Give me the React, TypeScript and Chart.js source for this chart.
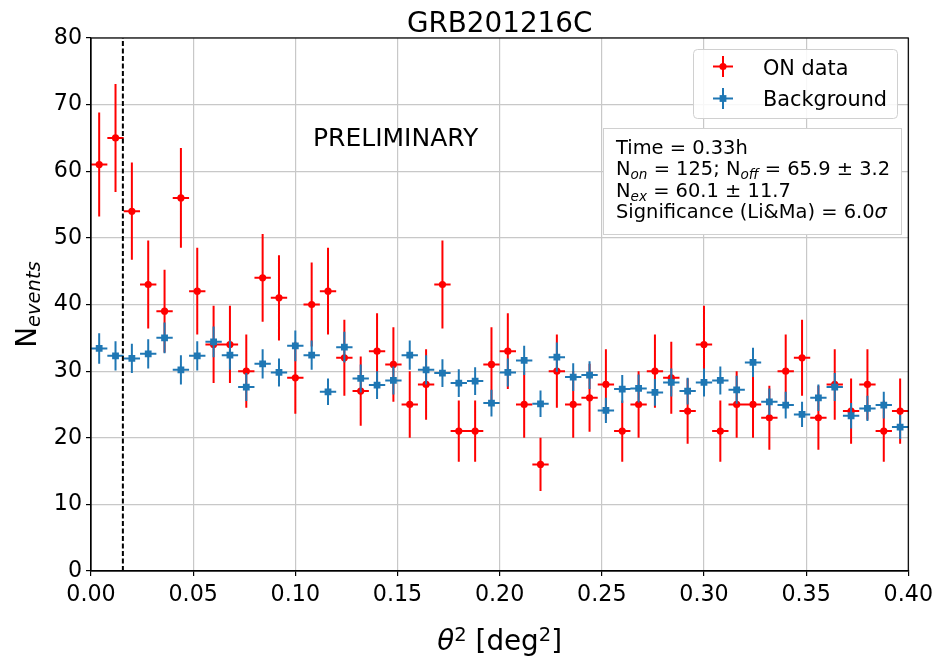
import React, { useEffect, useRef } from "react";
import { Chart, registerables } from "chart.js";

Chart.register(...registerables);

// ---------- data ----------
const binCenters = [
  0.004, 0.012, 0.020, 0.028, 0.036, 0.044, 0.052, 0.060, 0.068, 0.076,
  0.084, 0.092, 0.100, 0.108, 0.116, 0.124, 0.132, 0.140, 0.148, 0.156,
  0.164, 0.172, 0.180, 0.188, 0.196, 0.204, 0.212, 0.220, 0.228, 0.236,
  0.244, 0.252, 0.260, 0.268, 0.276, 0.284, 0.292, 0.300, 0.308, 0.316,
  0.324, 0.332, 0.340, 0.348, 0.356, 0.364, 0.372, 0.380, 0.388, 0.396,
];
const binHalfWidth = 0.004;

const onCounts = [
  61, 65, 54, 43, 39, 56, 42, 34, 34, 30,
  44, 41, 29, 40, 42, 32, 27, 33, 31, 25,
  28, 43, 21, 21, 31, 33, 25, 16, 30, 25,
  26, 28, 21, 25, 30, 29, 24, 34, 21, 25,
  25, 23, 30, 32, 23, 28, 24, 28, 21, 24,
];
const onErrors = [
  7.8, 8.1, 7.3, 6.6, 6.2, 7.5, 6.5, 5.8, 5.8, 5.5,
  6.6, 6.4, 5.4, 6.3, 6.5, 5.7, 5.2, 5.7, 5.6, 5.0,
  5.3, 6.6, 4.6, 4.6, 5.6, 5.7, 5.0, 4.0, 5.5, 5.0,
  5.1, 5.3, 4.6, 5.0, 5.5, 5.4, 4.9, 5.8, 4.6, 5.0,
  5.0, 4.8, 5.5, 5.7, 4.8, 5.3, 4.9, 5.3, 4.6, 4.9,
];
const bgCounts = [
  33.4, 32.3, 31.9, 32.6, 35.0, 30.2, 32.3, 34.4, 32.4, 27.6,
  31.1, 29.8, 33.8, 32.4, 26.9, 33.6, 28.9, 27.9, 28.6, 32.4,
  30.2, 29.7, 28.2, 28.5, 25.2, 29.8, 31.6, 25.1, 32.1, 29.1,
  29.4, 24.1, 27.3, 27.4, 26.8, 28.3, 27.0, 28.3, 28.6, 27.2,
  31.3, 25.4, 24.9, 23.5, 26.0, 27.6, 23.3, 24.4, 24.9, 21.6,
];
const bgErrors = [
  2.3, 2.2, 2.2, 2.2, 2.3, 2.2, 2.2, 2.3, 2.2, 2.1,
  2.2, 2.1, 2.3, 2.2, 2.0, 2.3, 2.1, 2.1, 2.1, 2.2,
  2.2, 2.1, 2.1, 2.1, 2.0, 2.1, 2.2, 2.0, 2.2, 2.1,
  2.1, 1.9, 2.1, 2.1, 2.0, 2.1, 2.0, 2.1, 2.1, 2.1,
  2.2, 2.0, 2.0, 1.9, 2.0, 2.1, 1.9, 1.9, 2.0, 1.8,
];
const thetaCut = 0.0156;

const chartTitle = "GRB201216C";
const seriesNames = ["ON data", "Background"];
const statsTime = "Time = 0.33h";
const statsNon = "125";
const statsNoff = "65.9 ± 3.2";
const statsNex = "60.1 ± 11.7";
const statsSig = "6.0";

// ---------- styling ----------
const FF = "'DejaVu Sans', 'Liberation Sans', sans-serif";
const font = (size: number, italic = false) => `${italic ? "italic " : ""}${size}px ${FF}`;
const RED = "#ff0000";
const BLUE = "#1f77b4";

type Run = { t: string; f: string; dy?: number };
function drawRuns(ctx: CanvasRenderingContext2D, x: number, y: number, runs: Run[], align: "left" | "center") {
  const widths = runs.map((r) => {
    ctx.font = r.f;
    return ctx.measureText(r.t).width;
  });
  const total = widths.reduce((a, b) => a + b, 0);
  let cx = align === "center" ? x - total / 2 : x;
  ctx.textAlign = "left";
  ctx.textBaseline = "alphabetic";
  runs.forEach((r, i) => {
    ctx.font = r.f;
    ctx.fillText(r.t, cx, y + (r.dy || 0));
    cx += widths[i];
  });
}

function roundRect(ctx: CanvasRenderingContext2D, x: number, y: number, w: number, h: number, r: number) {
  ctx.beginPath();
  ctx.moveTo(x + r, y);
  ctx.lineTo(x + w - r, y);
  ctx.arcTo(x + w, y, x + w, y + r, r);
  ctx.lineTo(x + w, y + h - r);
  ctx.arcTo(x + w, y + h, x + w - r, y + h, r);
  ctx.lineTo(x + r, y + h);
  ctx.arcTo(x, y + h, x, y + h - r, r);
  ctx.lineTo(x, y + r);
  ctx.arcTo(x, y, x + r, y, r);
  ctx.closePath();
}

function drawErrMarker(ctx: CanvasRenderingContext2D, cx: number, cy: number, color: string, style: string) {
  ctx.strokeStyle = color;
  ctx.fillStyle = color;
  ctx.lineWidth = 2;
  ctx.beginPath();
  ctx.moveTo(cx - 10, cy);
  ctx.lineTo(cx + 10, cy);
  ctx.moveTo(cx, cy - 10.5);
  ctx.lineTo(cx, cy + 10.5);
  ctx.stroke();
  if (style === "circle") {
    ctx.beginPath();
    ctx.arc(cx, cy, 3.6, 0, Math.PI * 2);
    ctx.fill();
  } else {
    ctx.fillRect(cx - 3.4, cy - 3.4, 6.8, 6.8);
  }
}

const errorBarPlugin = {
  id: "errorBars",
  beforeDatasetDraw(chart: any, args: any) {
    const ds = chart.data.datasets[args.index];
    const xs = chart.scales.x;
    const ys = chart.scales.y;
    const ctx: CanvasRenderingContext2D = chart.ctx;
    ctx.save();
    ctx.strokeStyle = ds.borderColor;
    ctx.lineWidth = 2;
    ctx.beginPath();
    ds.data.forEach((p: any) => {
      const px = xs.getPixelForValue(p.x);
      const py = ys.getPixelForValue(p.y);
      ctx.moveTo(xs.getPixelForValue(p.x - p.xErr), py);
      ctx.lineTo(xs.getPixelForValue(p.x + p.xErr), py);
      ctx.moveTo(px, ys.getPixelForValue(p.y - p.yErr));
      ctx.lineTo(px, ys.getPixelForValue(p.y + p.yErr));
    });
    ctx.stroke();
    ctx.restore();
  },
};

const decorPlugin = {
  id: "decor",
  afterDatasetsDraw(chart: any) {
    const ctx: CanvasRenderingContext2D = chart.ctx;
    const a = chart.chartArea;
    const xs = chart.scales.x;
    ctx.save();
    // dashed cut line
    const xc = xs.getPixelForValue(thetaCut);
    ctx.strokeStyle = "#000";
    ctx.lineWidth = 2;
    ctx.setLineDash([5, 2.5]);
    ctx.beginPath();
    ctx.moveTo(xc, a.bottom);
    ctx.lineTo(xc, a.top);
    ctx.stroke();
    ctx.setLineDash([]);
    // frame
    ctx.lineWidth = 1.2;
    ctx.strokeStyle = "#000";
    ctx.strokeRect(a.left, a.top, a.right - a.left, a.bottom - a.top);
    ctx.restore();
  },
  afterDraw(chart: any) {
    const ctx: CanvasRenderingContext2D = chart.ctx;
    const a = chart.chartArea;
    const midX = (a.left + a.right) / 2;
    const midY = (a.top + a.bottom) / 2;
    ctx.save();
    ctx.fillStyle = "#000";

    // title
    drawRuns(ctx, midX, 31.5, [{ t: chartTitle, f: font(27.8) }], "center");

    // x title
    drawRuns(
      ctx,
      midX,
      650,
      [
        { t: "θ", f: font(27.8, true) },
        { t: "2", f: font(19.5), dy: -9 },
        { t: " [deg", f: font(27.8) },
        { t: "2", f: font(19.5), dy: -9 },
        { t: "]", f: font(27.8) },
      ],
      "center"
    );

    // y title
    ctx.save();
    ctx.translate(36, midY);
    ctx.rotate(-Math.PI / 2);
    drawRuns(
      ctx,
      0,
      0,
      [
        { t: "N", f: font(27.8) },
        { t: "events", f: font(19.5, true), dy: 4 },
      ],
      "center"
    );
    ctx.restore();

    // PRELIMINARY
    ctx.fillStyle = "#000";
    drawRuns(ctx, 313, 146, [{ t: "PRELIMINARY", f: font(25) }], "left");

    // legend
    roundRect(ctx, 693.5, 49.5, 204, 69, 4);
    ctx.fillStyle = "rgba(255,255,255,0.85)";
    ctx.fill();
    ctx.strokeStyle = "#d0d0d0";
    ctx.lineWidth = 1;
    ctx.stroke();
    drawErrMarker(ctx, 723, 66.5, RED, "circle");
    drawErrMarker(ctx, 723, 98.5, BLUE, "rect");
    ctx.fillStyle = "#000";
    drawRuns(ctx, 763, 74.5, [{ t: seriesNames[0], f: font(20.8) }], "left");
    drawRuns(ctx, 763, 106, [{ t: seriesNames[1], f: font(20.8) }], "left");

    // stats box
    ctx.fillStyle = "#fff";
    ctx.fillRect(603.5, 128.5, 298, 106);
    ctx.strokeStyle = "#d0d0d0";
    ctx.lineWidth = 1;
    ctx.strokeRect(603.5, 128.5, 298, 106);
    ctx.fillStyle = "#000";
    const fs = 19.44;
    const sub = 13.6;
    drawRuns(ctx, 616, 153.5, [{ t: statsTime, f: font(fs) }], "left");
    drawRuns(
      ctx,
      616,
      175,
      [
        { t: "N", f: font(fs) },
        { t: "on", f: font(sub, true), dy: 4 },
        { t: ` = ${statsNon}; N`, f: font(fs) },
        { t: "off", f: font(sub, true), dy: 4 },
        { t: ` = ${statsNoff}`, f: font(fs) },
      ],
      "left"
    );
    drawRuns(
      ctx,
      616,
      196.7,
      [
        { t: "N", f: font(fs) },
        { t: "ex", f: font(sub, true), dy: 4 },
        { t: ` = ${statsNex}`, f: font(fs) },
      ],
      "left"
    );
    drawRuns(
      ctx,
      616,
      218.3,
      [
        { t: `Significance (Li&Ma) = ${statsSig}`, f: font(fs) },
        { t: "σ", f: font(fs, true) },
      ],
      "left"
    );
    ctx.restore();
  },
};

export default function App() {
  const canvasRef = useRef<HTMLCanvasElement | null>(null);

  useEffect(() => {
    document.body.style.margin = "0";
    const canvas = canvasRef.current;
    if (!canvas) return;

    const onData = binCenters.map((x, i) => ({ x, y: onCounts[i], xErr: binHalfWidth, yErr: onErrors[i] }));
    const bgData = binCenters.map((x, i) => ({ x, y: bgCounts[i], xErr: binHalfWidth, yErr: bgErrors[i] }));

    const tickFont = { family: "'DejaVu Sans', sans-serif", size: 22.2 };

    const chart = new Chart(canvas, {
      type: "scatter",
      data: {
        datasets: [
          {
            label: seriesNames[0],
            data: onData as any,
            borderColor: RED,
            backgroundColor: RED,
            pointStyle: "circle",
            pointRadius: 3.6,
            pointBorderWidth: 0,
            showLine: false,
            order: 2,
          },
          {
            label: seriesNames[1],
            data: bgData as any,
            borderColor: BLUE,
            backgroundColor: BLUE,
            pointStyle: "rect",
            pointRadius: 4.8,
            pointBorderWidth: 0,
            showLine: false,
            order: 1,
          },
        ],
      },
      options: {
        animation: false,
        responsive: true,
        maintainAspectRatio: false,
        events: [],
        layout: { padding: { left: 0, right: 30, top: 38, bottom: 0 } },
        plugins: {
          legend: { display: false },
          tooltip: { enabled: false },
          title: { display: false },
        },
        scales: {
          x: {
            type: "linear",
            min: 0,
            max: 0.4,
            afterFit: (s: any) => {
              s.height = 86;
            },
            ticks: {
              stepSize: 0.05,
              color: "#000",
              font: tickFont,
              padding: 6,
              maxRotation: 0,
              callback: (v: any) => Number(v).toFixed(2),
            },
            grid: {
              color: "#c8c8c8",
              lineWidth: 1.2,
              drawTicks: true,
              tickLength: 5,
              tickColor: "#000",
              tickWidth: 1.2,
            },
            border: { color: "#000", width: 1.2 },
          },
          y: {
            type: "linear",
            min: 0,
            max: 80,
            afterFit: (s: any) => {
              s.width = 91;
            },
            ticks: {
              stepSize: 10,
              color: "#000",
              font: tickFont,
              padding: 4,
            },
            grid: {
              color: "#c8c8c8",
              lineWidth: 1.2,
              drawTicks: true,
              tickLength: 5,
              tickColor: "#000",
              tickWidth: 1.2,
            },
            border: { color: "#000", width: 1.2 },
          },
        },
      },
      plugins: [errorBarPlugin, decorPlugin],
    });

    return () => {
      chart.destroy();
    };
  }, []);

  return (
    <div style={{ position: "relative", width: "939px", height: "657px", background: "#fff" }}>
      <canvas ref={canvasRef} />
    </div>
  );
}
